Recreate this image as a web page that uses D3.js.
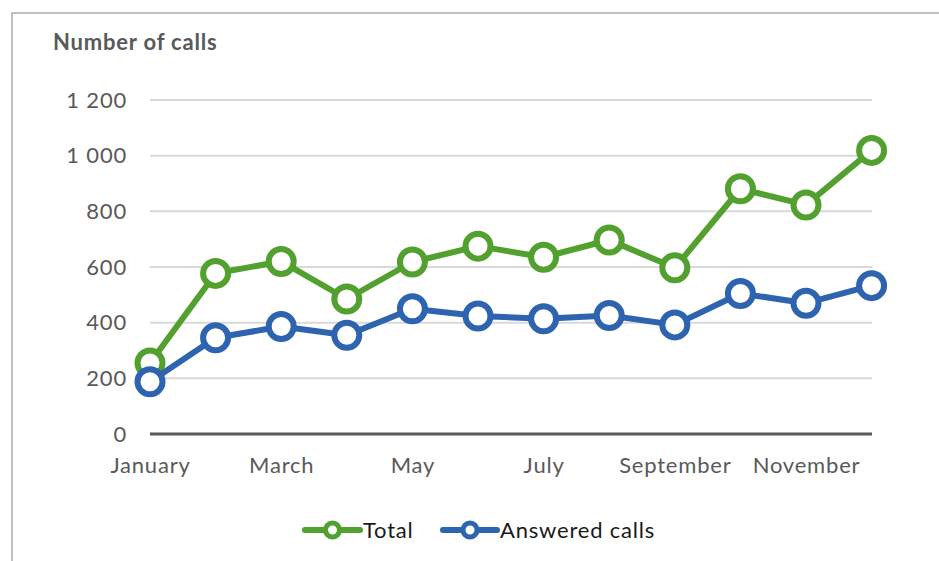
<!DOCTYPE html>
<html>
<head>
<meta charset="utf-8">
<script src="https://cdn.jsdelivr.net/npm/d3@7"></script>
<style>
  body { margin: 0; background: #fff; }
  svg text { font-family: Lato, "Open Sans", sans-serif; letter-spacing: 0.8px; }
</style>
</head>
<body>
<svg id="chart" width="939" height="561"></svg>
<script>
// chart data
const months = ['January', 'February', 'March', 'April', 'May', 'June',
                'July', 'August', 'September', 'October', 'November', 'December'];
const totalCalls = [255, 577, 620, 485, 618, 675, 635, 697, 597, 881, 823, 1019];
const answeredCalls = [188, 346, 386, 355, 450, 424, 414, 426, 392, 505, 470, 533];
const yTicks = [0, 200, 400, 600, 800, 1000, 1200];
const xLabels = ['January', 'March', 'May', 'July', 'September', 'November'];

const series = [
    { name: 'Total', values: totalCalls, color: '#52a02e' },
    { name: 'Answered calls', values: answeredCalls, color: '#2e63b0' }
];

const svg = d3.select('#chart');

// outer frame (only top and left edges visible)
svg.append('path')
    .attr('d', 'M12,561 L12,13 L939,13')
    .attr('fill', 'none')
    .attr('stroke', '#c0c0c0')
    .attr('stroke-width', 2);

const x = d3.scalePoint()
    .domain(months)
    .range([150, 871.6]);

const y = d3.scaleLinear()
    .domain([0, 1200])
    .range([434, 100]);

// gridlines
svg.append('g')
    .selectAll('line')
    .data(yTicks.filter(d => d > 0))
    .enter()
    .append('line')
    .attr('x1', 150)
    .attr('x2', 872)
    .attr('y1', d => y(d))
    .attr('y2', d => y(d))
    .attr('stroke', '#d9d9d9')
    .attr('stroke-width', 2);

// y axis labels, space as thousands separator
const fmt = d => d3.format(',')(d).replace(/,/g, ' ');
const yAxis = svg.append('g')
    .attr('transform', 'translate(127,0)')
    .call(d3.axisLeft(y).tickValues(yTicks).tickSize(0).tickPadding(0).tickFormat(fmt));
yAxis.select('.domain').remove();
yAxis.selectAll('text')
    .attr('fill', '#595959')
    .style('font-size', '22px');

// x axis
const xAxis = svg.append('g')
    .attr('transform', 'translate(0,434)')
    .call(d3.axisBottom(x).tickSize(0).tickPadding(23)
        .tickFormat(d => xLabels.includes(d) ? d : ''));
xAxis.select('.domain')
    .attr('d', 'M150,0H872')
    .attr('stroke', '#595959')
    .attr('stroke-width', 3);
xAxis.selectAll('text')
    .attr('fill', '#595959')
    .style('font-size', '22px');

// title
svg.append('text')
    .attr('x', 53)
    .attr('y', 50)
    .attr('fill', '#595959')
    .style('font-size', '22px')
    .style('font-weight', 'bold')
    .text('Number of calls');

const line = d3.line()
    .x((d, i) => x(months[i]))
    .y(d => y(d));

series.forEach(s => {
    const g = svg.append('g');
    g.append('path')
        .datum(s.values)
        .attr('d', line)
        .attr('fill', 'none')
        .attr('stroke', s.color)
        .attr('stroke-width', 6)
        .attr('stroke-linejoin', 'round');
    g.selectAll('circle')
        .data(s.values)
        .enter()
        .append('circle')
        .attr('cx', (d, i) => x(months[i]))
        .attr('cy', d => y(d))
        .attr('r', 12.5)
        .attr('fill', '#fff')
        .attr('stroke', s.color)
        .attr('stroke-width', 6);
});

// legend
const legendItems = [
    { s: series[0], x: 305, len: 55 },
    { s: series[1], x: 443, len: 54 }
];
legendItems.forEach(item => {
    const g = svg.append('g').attr('transform', `translate(${item.x},530)`);
    g.append('line')
        .attr('x1', 0)
        .attr('x2', item.len)
        .attr('stroke', item.s.color)
        .attr('stroke-width', 6)
        .attr('stroke-linecap', 'round');
    g.append('circle')
        .attr('cx', item.len / 2)
        .attr('r', 7)
        .attr('fill', '#fff')
        .attr('stroke', item.s.color)
        .attr('stroke-width', 5);
    g.append('text')
        .attr('x', item.len + 3)
        .attr('y', 8)
        .attr('fill', '#1a1a1a')
        .style('font-size', '22px')
        .text(item.s.name);
});
</script>
</body>
</html>
